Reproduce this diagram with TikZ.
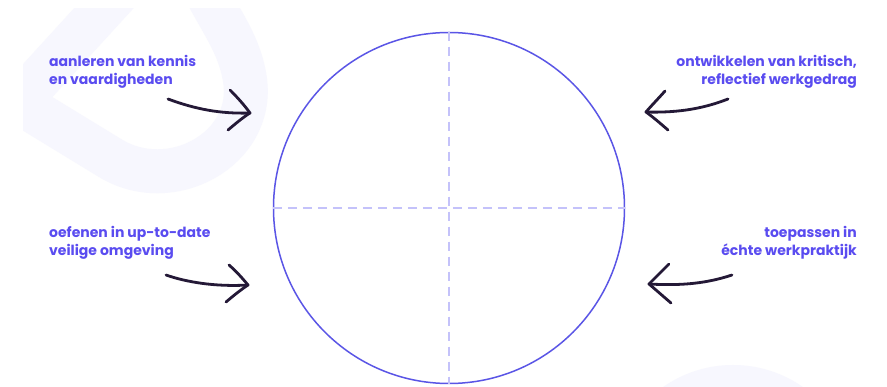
\documentclass[tikz,border=0pt]{standalone}
\usepackage{fontspec}
\setmainfont{Poppins}
\definecolor{txtc}{HTML}{5A4CF0}
\definecolor{ringc}{HTML}{5A55E6}
\definecolor{dashc}{HTML}{C4C2FA}
\definecolor{inkc}{HTML}{241937}
\definecolor{bgl}{HTML}{F7F7FE}
\tikzset{
  lbl/.style={inner sep=0pt, font=\fontsize{14}{18}\selectfont\bfseries, text=txtc},
  ink/.style={draw=inkc, line width=2.8pt, line cap=round, line join=round},
  quarter/.style={draw=dashc, line width=1.3pt, dash pattern=on 9pt off 6pt},
}
\begin{document}
\begin{tikzpicture}[x=1pt,y=-1pt]
\useasboundingbox (0,0) rectangle (887,387);
\fill[white] (0,0) rectangle (887,387);
% faint background shapes
\begin{scope}
\clip (23,9) rectangle (887,387);
\draw[bgl, line width=44pt, line cap=butt] (125,-15) -- (20,100);
\draw[bgl, line width=44pt, line join=round] (15,100) -- (110,158) .. controls (170,195) and (255,150) .. (245,80) .. controls (240,45) and (220,20) .. (205,-10);
\fill[bgl] (733,487) circle (122);
\end{scope}
% circle
\node[draw=ringc, line width=1.5pt, circle, minimum size=351pt, inner sep=0pt] (c) at (449,208) {};
\draw[quarter] (c.north) -- (c.south);
\draw[quarter] (c.west) -- (c.east);
% labels (base anchor = baseline of the last line)
\node[lbl, anchor=base west, align=left] (tl) at (49,85) {aanleren van kennis\\en vaardigheden};
\node[lbl, anchor=base east, align=right] (tr) at (857,85) {ontwikkelen van kritisch,\\reflectief werkgedrag};
\node[lbl, anchor=base west, align=left] (bl) at (49,256) {oefenen in up-to-date\\veilige omgeving};
\node[lbl, anchor=base east, align=right] (br) at (857,256) {toepassen in\\échte werkpraktijk};
% arrow coordinates
\coordinate (tlA) at (168,99);  \coordinate (tlB) at (250,113);
\coordinate (tlU) at (230,90);  \coordinate (tlL) at (228,130);
\coordinate (blA) at (166,275); \coordinate (blB) at (248,285);
\coordinate (blU) at (229,265); \coordinate (blL) at (226,302);
\coordinate (trA) at (728,99);  \coordinate (trB) at (646,112);
\coordinate (trU) at (665,91);  \coordinate (trL) at (668,130);
\coordinate (brA) at (732,275); \coordinate (brB) at (649,284);
\coordinate (brU) at (669,264); \coordinate (brL) at (671,303);
% arrows
\draw[ink] (tlA) .. controls (195,109) and (220,114) .. (tlB);
\draw[ink] (tlU) .. controls (238,98) and (245,106) .. (tlB) .. controls (242,118) and (234,125) .. (tlL);
\draw[ink] (blA) .. controls (186,282) and (215,287) .. (blB);
\draw[ink] (blU) .. controls (237,272) and (243,279) .. (blB) .. controls (239,291) and (232,297) .. (blL);
\draw[ink] (trB) .. controls (680,113) and (705,108) .. (trA);
\draw[ink] (trU) .. controls (658,99) and (651,106) .. (trB) .. controls (653,117) and (661,124) .. (trL);
\draw[ink] (brB) .. controls (683,286) and (708,283) .. (brA);
\draw[ink] (brU) .. controls (661,272) and (654,279) .. (brB) .. controls (656,290) and (664,297) .. (brL);
\end{tikzpicture}
\end{document}
